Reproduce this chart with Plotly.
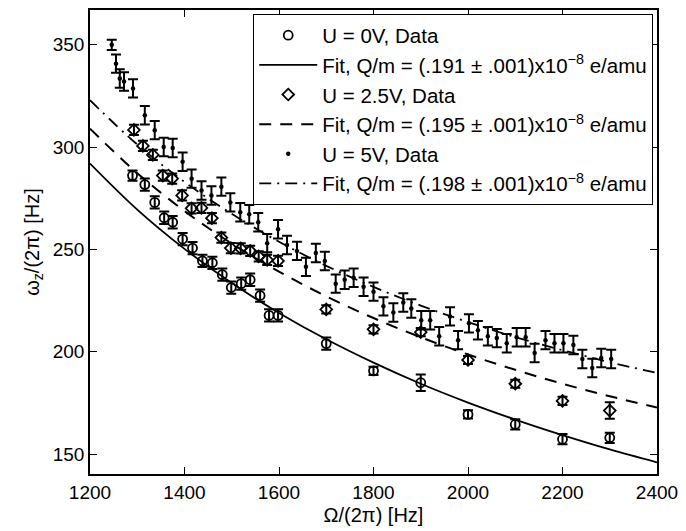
import plotly.graph_objects as go

# U = 0 V data
x0 = [1290, 1316, 1337, 1357, 1375, 1396, 1417, 1438, 1459, 1480, 1499, 1520, 1539, 1560, 1579, 1598,
      1700, 1800, 1900, 2000, 2100, 2200, 2300]
y0 = [286.1, 281.7, 273.0, 265.5, 263.3, 255.1, 250.7, 244.4, 243.5, 237.7, 231.4, 233.3, 235.2, 227.5, 217.8, 217.8,
      204.0, 190.7, 184.9, 169.4, 164.5, 157.3, 158.0]
e0 = [2.5, 3, 3, 3, 3, 3, 3, 3, 3, 3, 3, 3, 3, 3, 3, 3,
      3, 2, 4, 2, 2.5, 2.5, 2.5]

# U = 2.5 V data
x25 = [1293, 1312, 1333, 1354, 1374, 1395, 1415, 1436, 1458, 1478, 1498, 1519, 1539, 1557, 1575, 1598,
       1700, 1800, 1900, 2000, 2100, 2200, 2300]
y25 = [308.4, 300.6, 296.2, 286.1, 284.6, 276.4, 270.1, 270.3, 265.3, 255.8, 250.7, 250.5, 249.3, 246.6, 244.9, 244.4,
       220.7, 211.0, 209.6, 196.0, 184.4, 176.0, 171.3]
e25 = [2.5, 2.5, 2.5, 2.5, 2.5, 2.5, 2.5, 2.5, 2.5, 2.5, 2.5, 2.5, 2.5, 2.5, 2.5, 2.5,
       2, 2, 2, 2, 2, 2, 4]

# U = 5 V data
x5 = [1246, 1255, 1263, 1272, 1291, 1316, 1337, 1356, 1375, 1396, 1415, 1436, 1457, 1478, 1497,
      1518, 1537, 1556, 1575, 1598, 1617, 1638, 1657, 1678, 1697, 1720, 1739, 1758, 1779, 1800,
      1821, 1842, 1863, 1880, 1901, 1920, 1939, 1962, 1979, 2002, 2021, 2042, 2061, 2082, 2103,
      2122, 2141, 2164, 2183, 2202, 2223, 2242, 2263, 2282, 2303]
y5 = [350.0, 340.8, 333.5, 332.1, 328.7, 315.6, 308.3, 300.1, 299.6, 292.9, 284.6, 278.8, 276.4, 280.7, 273.0,
      268.2, 267.2, 263.3, 253.1, 259.9, 252.2, 249.3, 241.5, 248.3, 244.4, 233.3, 235.2, 236.2, 231.8, 229.4,
      222.2, 219.2, 224.1, 221.2, 215.4, 215.4, 207.6, 217.3, 205.7, 213.9, 210.5, 207.6, 206.7, 204.2, 207.1,
      207.1, 199.4, 205.7, 204.2, 204.2, 203.3, 196.5, 192.1, 197.0, 196.5]
e5 = [2.5, 4.5, 4.5, 4.5, 4.5, 4.5, 4.5, 4.5, 4.5, 4.5, 4.5, 4.5, 4.5, 4.5, 4.5,
      4.5, 4.5, 4.5, 4.5, 4.5, 4.5, 4.5, 4.5, 4.5, 4.5, 4.5, 4.5, 4.5, 4.5, 4.5,
      4.5, 4.5, 4.5, 4.5, 4.5, 4.5, 4.5, 4.5, 4.5, 4.5, 4.5, 4.5, 4.5, 4.5, 4.5,
      4.5, 4.5, 4.5, 4.5, 4.5, 4.5, 4.5, 4.5, 4.5, 4.5]

# Fit curves
xfit = [1200, 1300, 1400, 1500, 1600, 1700, 1800, 1900, 2000, 2100, 2200, 2300, 2400]
fit0 = [292.0, 269.5, 250.3, 233.6, 219.0, 206.1, 194.7, 184.4, 175.2, 166.9, 159.3, 152.3, 146.0]
fit25 = [309.0, 287.3, 268.8, 252.9, 239.2, 227.1, 216.5, 207.1, 198.7, 191.2, 184.4, 178.3, 172.8]
fit5 = [322.9, 301.3, 283.0, 267.4, 253.8, 242.0, 231.7, 222.6, 214.5, 207.2, 200.8, 194.9, 189.7]

names = ["U = 0V, Data",
         "Fit, Q/m = (.191 ± .001)x10<sup>−8</sup> e/amu",
         "U = 2.5V, Data",
         "Fit, Q/m = (.195 ± .001)x10<sup>−8</sup> e/amu",
         "U = 5V, Data",
         "Fit, Q/m = (.198 ± .001)x10<sup>−8</sup> e/amu"]

FONT = "Liberation Sans, Arial, Helvetica, sans-serif"
BLK = "black"

def err(e, w=5):
    return dict(type="data", array=e, visible=True, color=BLK, thickness=2, width=w)

fig = go.Figure()
fig.add_trace(go.Scatter(x=x0, y=y0, mode="markers", name=names[0],
                         marker=dict(symbol="circle-open", size=9, color=BLK, line=dict(width=1.8)),
                         error_y=err(e0)))
fig.add_trace(go.Scatter(x=xfit, y=fit0, mode="lines", name=names[1], line_shape="spline",
                         line=dict(color=BLK, width=1.8)))
fig.add_trace(go.Scatter(x=x25, y=y25, mode="markers", name=names[2],
                         marker=dict(symbol="diamond-open", size=9, color=BLK, line=dict(width=1.8)),
                         error_y=err(e25)))
fig.add_trace(go.Scatter(x=xfit, y=fit25, mode="lines", name=names[3], line_shape="spline",
                         line=dict(color=BLK, width=2, dash="12px,9px")))
fig.add_trace(go.Scatter(x=x5, y=y5, mode="markers", name=names[4],
                         marker=dict(symbol="circle", size=4.5, color=BLK),
                         error_y=err(e5, 5)))
fig.add_trace(go.Scatter(x=xfit, y=fit5, mode="lines", name=names[5], line_shape="spline",
                         line=dict(color=BLK, width=1.8, dash="12px,6px,2px,6px")))

axis_common = dict(showline=True, linecolor=BLK, linewidth=1.5, mirror="ticks",
                   ticks="inside", ticklen=7, tickwidth=1.2, tickcolor=BLK,
                   showgrid=False, zeroline=False,
                   tickfont=dict(family=FONT, size=19, color=BLK))

fig.update_layout(
    width=686, height=531,
    margin=dict(l=90, r=28, t=8, b=54),
    paper_bgcolor="white", plot_bgcolor="white",
    font=dict(family=FONT, size=19, color=BLK),
    showlegend=True,
    legend=dict(x=0.993, y=0.991, xanchor="right", yanchor="top",
                bgcolor="white", bordercolor=BLK, borderwidth=1.2,
                font=dict(family=FONT, size=20.5, color=BLK),
                itemwidth=58, tracegroupgap=0),
    xaxis=dict(range=[1200, 2400], dtick=200, tick0=1200,
               title=dict(text="Ω/(2π) [Hz]", font=dict(family=FONT, size=20), standoff=6),
               **axis_common),
    yaxis=dict(range=[140.3, 367], tickvals=[150, 200, 250, 300, 350],
               title=dict(text="ω<sub>z</sub>/(2π) [Hz]", font=dict(family=FONT, size=20), standoff=8),
               **axis_common),
)

fig.write_html("out.html")
